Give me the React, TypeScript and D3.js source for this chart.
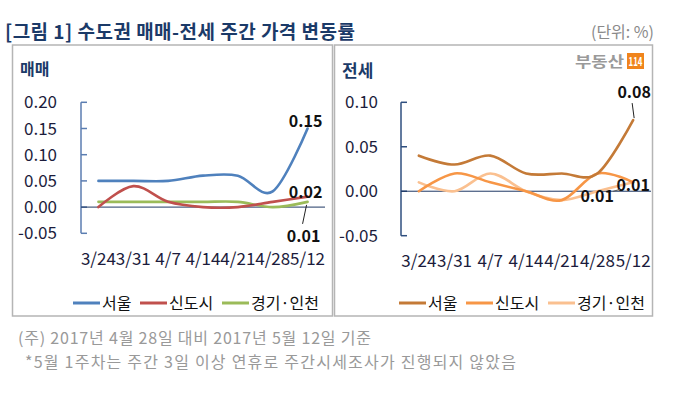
import React from "react";
import * as d3 from "d3";

const categories = ["3/24", "3/31", "4/7", "4/14", "4/21", "4/28", "5/12"];
const leftTicks = [0.2, 0.15, 0.1, 0.05, 0, -0.05];
const rightTicks = [0.1, 0.05, 0, -0.05];
const seriesNames = ["서울", "신도시", "경기·인천"];
const saleSeoul = [0.05, 0.05, 0.05, 0.06, 0.06, 0.03, 0.15];
const saleNew = [0.0, 0.04, 0.01, 0.0, 0.0, 0.01, 0.02];
const saleGG = [0.01, 0.01, 0.01, 0.01, 0.01, 0.0, 0.01];
const rentSeoul = [0.04, 0.03, 0.04, 0.02, 0.02, 0.02, 0.08];
const rentNew = [0.0, 0.02, 0.01, 0.0, -0.01, 0.02, 0.01];
const rentGG = [0.01, 0.0, 0.02, 0.0, -0.01, 0.0, 0.01];
const leftColors = ["#4f81bd", "#c0504d", "#9bbb59"];
const rightColors = ["#c47a37", "#f79646", "#fac090"];

const FONT = "'Noto Sans CJK KR', 'Noto Sans', sans-serif";

function fmt(v: number) {
  return v.toFixed(2);
}

type PanelProps = {
  x0: number;
  x1: number;
  yTop: number;
  yBottom: number;
  domain: [number, number];
  ticks: number[];
  series: number[][];
  colors: string[];
  axisColor: string;
  labelRight: number;
  xLabelY: number;
  children?: (xs: d3.ScaleBand<string>, ys: d3.ScaleLinear<number, number>) => React.ReactNode;
};

function Panel(p: PanelProps) {
  const xs = d3.scaleBand<string>().domain(categories).range([p.x0, p.x1]);
  const ys = d3.scaleLinear().domain(p.domain).range([p.yBottom, p.yTop]);
  const cx = (c: string) => (xs(c) as number) + xs.bandwidth() / 2;
  const line = d3
    .line<number>()
    .x((_, i) => cx(categories[i]))
    .y((d) => ys(d))
    .curve(d3.curveCatmullRom.alpha(0));
  return (
    <g>
      <line x1={p.x0} x2={p.x0} y1={ys(p.ticks[0])} y2={ys(p.ticks[p.ticks.length - 1])} stroke={p.axisColor} strokeWidth={1.5} />
      {p.ticks.map((t) => (
        <g key={t}>
          <line x1={p.x0} x2={p.x0 + 6} y1={ys(t)} y2={ys(t)} stroke={p.axisColor} strokeWidth={1.5} />
          <text x={p.labelRight} y={ys(t)} dy="0.36em" textAnchor="end" fontSize={17} fill="#1c1c3c" fontFamily={FONT}>
            {fmt(t)}
          </text>
        </g>
      ))}
      <line x1={p.x0} x2={p.x1} y1={ys(0)} y2={ys(0)} stroke="#1f3864" strokeWidth={1} />
      {categories.map((c) => (
        <text key={c} x={cx(c)} y={p.xLabelY} dy="0.36em" textAnchor="middle" fontSize={17} fill="#1c1c3c" fontFamily={FONT}>
          {c}
        </text>
      ))}
      {p.series
        .map((s, i) => (
          <path key={i} d={line(s) || ""} fill="none" stroke={p.colors[i]} strokeWidth={2.6} strokeLinecap="round" />
        ))
        .reverse()}
      {p.children && p.children(xs, ys)}
    </g>
  );
}

export default function App() {
  const lastCat = categories[categories.length - 1];
  const last = categories.length - 1;
  return (
    <svg width={673} height={399} style={{ position: "absolute", left: 0, top: 0, background: "#fff" }} fontFamily={FONT}>
      <rect x={0} y={0} width={673} height={399} fill="#fff" />
      <text x={5} y={32} dy="0.36em" fontSize={19} fontWeight="bold" fill="#1b3a68" textLength={350} lengthAdjust="spacing">
        [그림 1] 수도권 매매-전세 주간 가격 변동률
      </text>
      <text x={654} y={32} dy="0.36em" fontSize={16} fill="#8a8a8a" textAnchor="end">
        (단위: %)
      </text>
      <rect x={12.5} y={45} width={320} height={271} fill="none" stroke="#b5b5b5" strokeWidth={1.5} />
      <rect x={334.5} y={45} width={318} height={271} fill="none" stroke="#b5b5b5" strokeWidth={1.5} />
      <text x={20} y={69} dy="0.36em" fontSize={16} fontWeight="bold" fill="#1b3a68">매매</text>
      <text x={342} y={71} dy="0.36em" fontSize={17} fontWeight="bold" fill="#1b3a68">전세</text>

      <Panel
        x0={81}
        x1={325}
        yTop={102.3}
        yBottom={233.3}
        domain={[-0.05, 0.2]}
        ticks={leftTicks}
        series={[saleSeoul, saleNew, saleGG]}
        colors={leftColors}
        axisColor="#5b7db1"
        labelRight={57}
        xLabelY={259}
      >
        {(xs, ys) => {
          const x = (xs(lastCat) as number) + xs.bandwidth() / 2;
          return (
            <g fontSize={16} fontWeight="bold" fill="#111" textAnchor="middle">
              <text x={x - 2} y={ys(saleSeoul[last]) - 2}>{fmt(saleSeoul[last])}</text>
              <text x={x - 2} y={ys(saleNew[last]) + 1}>{fmt(saleNew[last])}</text>
              <line x1={x - 1} y1={ys(saleGG[last]) + 3} x2={x - 5} y2={ys(saleGG[last]) + 22} stroke="#222" strokeWidth={1} />
              <text x={x - 4} y={ys(saleGG[last]) + 40}>{fmt(saleGG[last])}</text>
            </g>
          );
        }}
      </Panel>

      <Panel
        x0={401}
        x1={651}
        yTop={102.3}
        yBottom={235.7}
        domain={[-0.05, 0.1]}
        ticks={rightTicks}
        series={[rentSeoul, rentNew, rentGG]}
        colors={rightColors}
        axisColor="#2f4f7f"
        labelRight={378}
        xLabelY={261}
      >
        {(xs, ys) => {
          const x = (xs(lastCat) as number) + xs.bandwidth() / 2;
          return (
            <g fontSize={16} fontWeight="bold" fill="#111" textAnchor="middle">
              <line x1={x + 1} y1={ys(rentSeoul[last]) - 2} x2={x - 1} y2={ys(rentSeoul[last]) - 17} stroke="#222" strokeWidth={1} />
              <text x={x + 1} y={ys(rentSeoul[last]) - 22}>{fmt(rentSeoul[last])}</text>
              <text x={x} y={ys(rentNew[last]) + 9}>{fmt(rentNew[last])}</text>
              <line x1={x - 20} y1={ys(rentGG[last]) + 9} x2={x - 13} y2={ys(rentGG[last]) + 7} stroke="#555" strokeWidth={1} />
              <text x={x - 36} y={ys(rentGG[last]) + 20}>{fmt(rentGG[last])}</text>
            </g>
          );
        }}
      </Panel>

      {/* logo */}
      <text x={575} y={62} dy="0.36em" fontSize={15} fontWeight="bold" fill="#9a9a9a" textLength={49} lengthAdjust="spacingAndGlyphs">부동산</text>
      <rect x={627} y={53} width={17} height={16} fill="#f0841c" />
      <text x={635.5} y={61.5} dy="0.36em" fontSize={12} fontWeight="bold" fill="#fff" textAnchor="middle" textLength={14} lengthAdjust="spacingAndGlyphs">114</text>

      {/* legends */}
      {[
        { x: 73, colors: leftColors },
        { x: 399, colors: rightColors },
      ].map((lg, k) => {
        const offsets = [0, 67, 149];
        return (
          <g key={k}>
            {seriesNames.map((n, i) => (
              <g key={n}>
                <line x1={lg.x + offsets[i]} x2={lg.x + offsets[i] + 27} y1={303} y2={303} stroke={lg.colors[i]} strokeWidth={3} />
                <text x={lg.x + offsets[i] + 29} y={303} dy="0.36em" fontSize={16} fill="#111">{n}</text>
              </g>
            ))}
          </g>
        );
      })}

      <text x={18} y={338} dy="0.36em" fontSize={16} fill="#999" textLength={353} lengthAdjust="spacing">
        (주) 2017년 4월 28일 대비 2017년 5월 12일 기준
      </text>
      <text x={25} y={362} dy="0.36em" fontSize={16} fill="#999" textLength={491} lengthAdjust="spacing">
        *5월 1주차는 주간 3일 이상 연휴로 주간시세조사가 진행되지 않았음
      </text>
    </svg>
  );
}
